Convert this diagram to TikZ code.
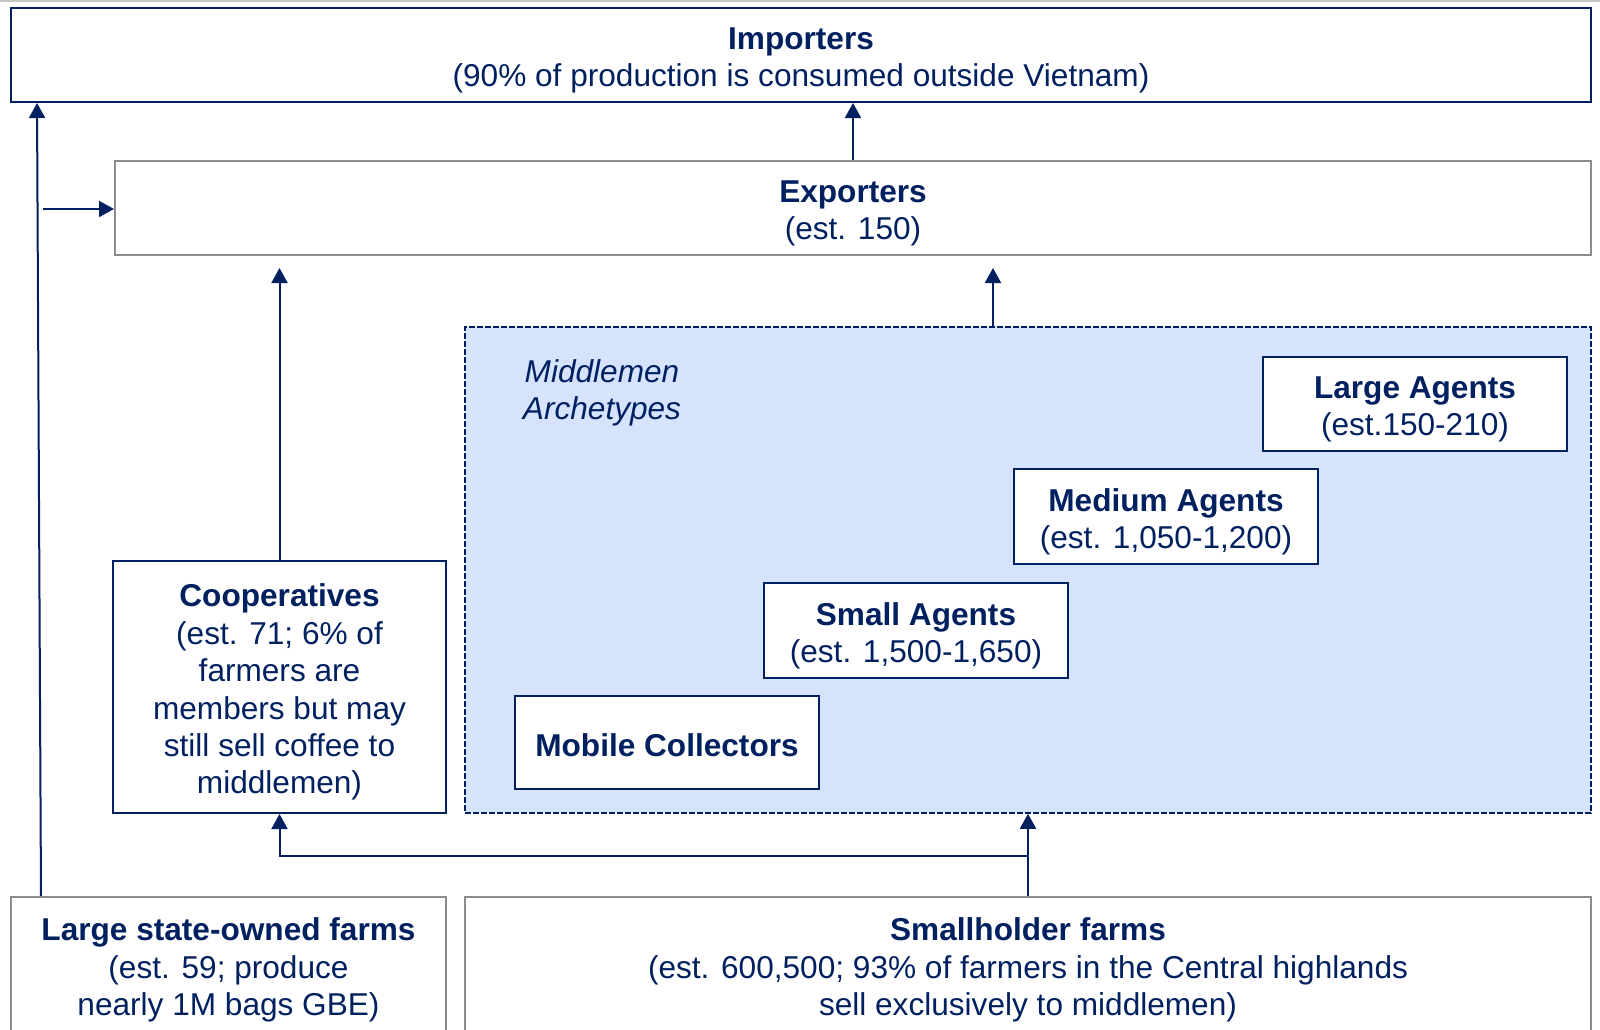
\documentclass[tikz,border=0pt]{standalone}
\usepackage{fontspec}
\setmainfont{Liberation Sans}
\usetikzlibrary{arrows.meta,calc}
\definecolor{navy}{RGB}{0,32,96}
\definecolor{boxgray}{RGB}{140,140,140}
\definecolor{midfill}{RGB}{214,227,253}
\begin{document}
\begin{tikzpicture}[x=0.5pt,y=-0.5pt,
  every node/.style={font=\fontsize{15.8pt}{18.7pt}\selectfont, text=navy, align=center, inner sep=0pt},
  txt/.style={label={[yshift=-2.6pt]center:{#1}}},
  txtone/.style={label={[yshift=-1.5pt]center:{#1}}},
  navybox/.style={draw=navy, line width=1pt, fill=white, rectangle},
  graybox/.style={draw=boxgray, line width=1pt, fill=white, rectangle},
  arr/.style={draw=navy, line width=1pt, -{Triangle[length=7.5pt,width=8pt]}}]
\path[use as bounding box] (0,0) rectangle (1600,1029);
\clip (0,0) rectangle (1600,1029);
\draw[gray!45, line width=0.8pt] (0,0.8) -- (1600,0.8);

\node[navybox, minimum width=790pt, minimum height=47pt,
  txt={\textbf{Importers}\\(90\% of production is consumed outside Vietnam)}] (imp) at (801,55) {};
\node[graybox, minimum width=738pt, minimum height=47pt,
  txt={\textbf{Exporters}\\(est. 150)}] (exp) at (853,208) {};
\node[draw=navy, line width=0.75pt, dash pattern=on 3pt off 1pt, fill=midfill,
  minimum width=563pt, minimum height=243pt] (mid) at (1028,570) {};
\node[font=\fontsize{15.8pt}{18.7pt}\selectfont\itshape] (lbl) at (602,393)
  {Middlemen\\Archetypes};
\node[navybox, minimum width=152pt, minimum height=47pt,
  txt={\textbf{Large Agents}\\(est.150-210)}] (large) at (1415,404) {};
\node[navybox, minimum width=152pt, minimum height=47.5pt,
  txt={\textbf{Medium Agents}\\(est. 1,050-1,200)}] (medium) at (1166,516.5) {};
\node[navybox, minimum width=152pt, minimum height=47.5pt,
  txt={\textbf{Small Agents}\\(est. 1,500-1,650)}] (small) at (916,630.5) {};
\node[navybox, minimum width=152pt, minimum height=46.5pt,
  txtone={\textbf{Mobile Collectors}}] (mobile) at (667,742.5) {};
\node[navybox, minimum width=166.5pt, minimum height=126pt,
  txt={\textbf{Cooperatives}\\(est. 71; 6\% of\\farmers are\\members but may\\still sell coffee to\\middlemen)}] (coop) at (279.5,687) {};
\node[graybox, minimum width=217.5pt, minimum height=68pt,
  txt={\textbf{Large state-owned farms}\\(est. 59; produce\\nearly 1M bags GBE)}] (state) at (228.5,965) {};
\node[graybox, minimum width=563pt, minimum height=68pt,
  txt={\textbf{Smallholder farms}\\(est. 600,500; 93\% of farmers in the Central highlands\\sell exclusively to middlemen)}] (sh) at (1028,965) {};

\draw[arr] (exp.north) -- (exp.north |- imp.south);
\draw[arr] ($(state.north west)+(31,0)$) -- ($(imp.south west)+(27,0)$);
\coordinate (br) at (43,209);
\draw[arr] (br) -- (br -| exp.west);
\draw[arr, shorten >=6pt] (coop.north) -- (coop.north |- exp.south);
\coordinate (mtop) at ($(mid.north)+(-35,0)$);
\draw[arr, shorten >=6pt] (mtop) -- (mtop |- exp.south);
\draw[arr] (sh.north) -- (mid.south);
\coordinate (junc) at ($(sh.north)+(0,-40)$);
\draw[arr] (junc) -| (coop.south);
\end{tikzpicture}
\end{document}
